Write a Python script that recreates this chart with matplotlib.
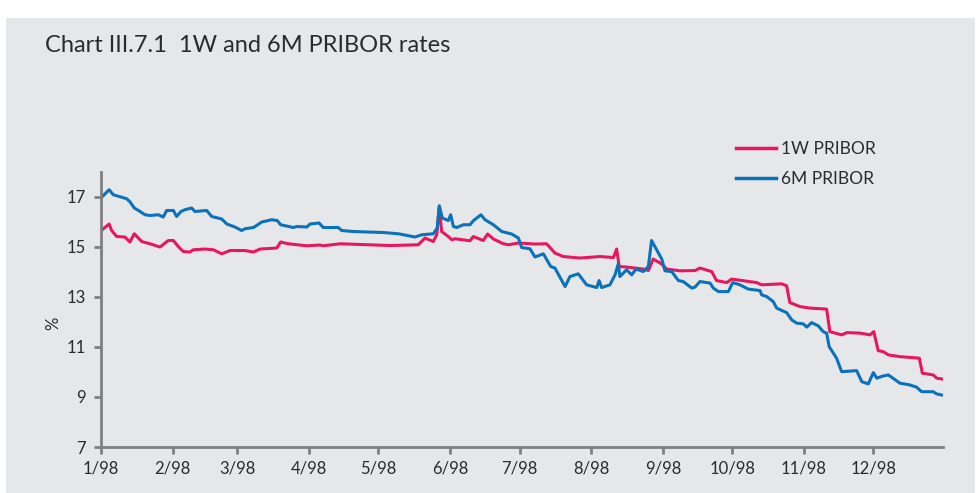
import numpy as np
import pandas as pd
import matplotlib
matplotlib.use("Agg")
import matplotlib.pyplot as plt
from matplotlib.patches import Rectangle

# ---- data (day offsets from 1 Jan 1998, rate in %) ----
days_6m = [0, 3.5, 5.3, 11.1, 12.5, 14.4, 16.9, 19.0, 21.2, 24.8, 26.9, 28.4, 31.3, 32.7,
           34.6, 36.3, 39.2, 40.6, 45.7, 47.9, 52.2, 54.4, 57.9, 60.8, 62.3, 65.9, 67.3,
           69.5, 73.8, 76.2, 77.7, 83.2, 84.6, 89.0, 90.4, 94.3, 96.1, 102.6, 104.1, 109.1,
           122.1, 128.6, 135.8, 138.7, 143.7, 145.4, 146.3, 147.6, 150.2, 151.2, 152.4,
           153.8, 156.7, 159.6, 161.0, 164.3, 166.1, 169.7, 173.3, 177.6, 180.5, 181.9,
           185.5, 187.7, 191.3, 194.5, 196.3, 200.7, 202.8, 206.4, 210.0, 214.4, 215.4,
           216.5, 220.1, 222.3, 223.7, 224.4, 227.3, 229.5, 231.4, 234.5, 236.7, 238.1,
           242.5, 243.9, 246.8, 249.7, 251.8, 255.5, 256.9, 259.0, 263.4, 264.8, 267.0,
           271.3, 273.2, 276.3, 279.9, 285.0, 285.7, 287.9, 290.7, 292.2, 296.5, 298.7,
           300.8, 303.7, 305.2, 307.3, 310.2, 312.3, 313.8, 314.9, 318.1, 320.3, 326.8,
           329.0, 331.8, 334.0, 335.5, 338.3, 340.5, 345.5, 349.8, 352.7, 354.9, 359.9,
           361.4, 363.5]
rate_6m = [16.95, 17.28, 17.08, 16.92, 16.80, 16.55, 16.41, 16.28, 16.25, 16.28, 16.19,
           16.45, 16.45, 16.21, 16.41, 16.48, 16.55, 16.41, 16.45, 16.21, 16.11, 15.91,
           15.79, 15.65, 15.72, 15.77, 15.85, 15.99, 16.08, 16.05, 15.88, 15.77, 15.81,
           15.79, 15.91, 15.95, 15.77, 15.77, 15.65, 15.61, 15.57, 15.52, 15.39, 15.48,
           15.52, 15.75, 16.64, 16.15, 16.05, 16.28, 15.81, 15.77, 15.88, 15.88, 16.04,
           16.28, 16.08, 15.88, 15.61, 15.51, 15.35, 14.97, 14.92, 14.59, 14.72, 14.21,
           14.15, 13.41, 13.81, 13.92, 13.48, 13.37, 13.65, 13.37, 13.48, 13.88, 14.32,
           13.81, 14.08, 13.88, 14.11, 14.01, 14.21, 15.25, 14.51, 14.04, 14.01, 13.65,
           13.61, 13.35, 13.39, 13.61, 13.55, 13.35, 13.21, 13.21, 13.57, 13.48, 13.31,
           13.25, 13.08, 13.01, 12.81, 12.55, 12.37, 12.08, 11.95, 11.92, 11.79, 11.97,
           11.84, 11.61, 11.55, 11.01, 10.55, 10.01, 10.05, 9.61, 9.52, 9.97, 9.75, 9.84,
           9.88, 9.55, 9.48, 9.39, 9.21, 9.21, 9.12, 9.08]

days_1w = [0, 3.5, 4.6, 6.8, 10.4, 12.5, 14.4, 17.6, 21.2, 25.5, 29.1, 31.3, 33.4, 35.6,
           38.5, 39.9, 45.0, 48.6, 52.2, 55.8, 62.3, 65.9, 68.8, 76.0, 77.7, 81.0, 89.0,
           94.7, 96.1, 103.4, 125.0, 137.2, 140.1, 143.7, 145.2, 146.3, 147.3, 150.2,
           151.7, 153.1, 159.6, 161.0, 165.3, 167.2, 169.7, 174.0, 176.2, 180.5, 187.7,
           192.7, 196.3, 199.9, 207.1, 215.8, 221.6, 223.0, 224.1, 227.3, 234.5, 236.7,
           238.8, 242.5, 244.6, 250.4, 256.9, 259.0, 264.1, 266.2, 270.6, 272.7, 283.5,
           285.7, 294.4, 296.5, 297.9, 302.3, 306.6, 313.8, 315.2, 320.3, 322.5, 328.2,
           332.6, 334.2, 336.1, 338.3, 340.5, 345.5, 353.9, 355.2, 359.9, 361.4, 363.5]
rate_1w = [15.64, 15.91, 15.65, 15.41, 15.39, 15.19, 15.52, 15.21, 15.12, 14.99, 15.25,
           15.25, 15.01, 14.81, 14.79, 14.88, 14.91, 14.88, 14.72, 14.85, 14.85, 14.79,
           14.91, 14.95, 15.19, 15.12, 15.04, 15.07, 15.04, 15.12, 15.05, 15.08, 15.35,
           15.21, 15.48, 16.61, 15.61, 15.41, 15.28, 15.32, 15.24, 15.41, 15.25, 15.51,
           15.31, 15.12, 15.08, 15.15, 15.11, 15.12, 14.75, 14.61, 14.55, 14.61, 14.57,
           14.91, 14.21, 14.19, 14.11, 14.05, 14.51, 14.31, 14.11, 14.04, 14.05, 14.15,
           14.01, 13.65, 13.57, 13.71, 13.57, 13.48, 13.52, 13.44, 12.77, 12.61, 12.55,
           12.51, 11.61, 11.48, 11.57, 11.55, 11.48, 11.61, 10.85, 10.81, 10.68, 10.61,
           10.55, 9.95, 9.88, 9.75, 9.72]

series_labels = ["1W PRIBOR", "6M PRIBOR"]
month_ticks = ["1998-%02d-01" % m for m in range(1, 13)]
month_labels = ["%d/98" % m for m in range(1, 13)]
y_ticks = [7, 9, 11, 13, 15, 17]
title = "Chart III.7.1  1W and 6M PRIBOR rates"

plt.rcParams['font.family'] = ["Lato", "DejaVu Sans"]

bg = "#E6E7E9"
txt = "#2b2b2b"
axcol = "#7f7f7f"
red = "#E8175D"
blue = "#0A72BA"

W, H = 978, 493
fig = plt.figure(figsize=(W / 100, H / 100), dpi=100)
fig.patch.set_facecolor(bg)
# white margins around the grey panel
fig.add_artist(Rectangle((0, 1 - 18 / H), 1, 18 / H, transform=fig.transFigure,
                         facecolor="white", edgecolor="none", zorder=0))
fig.add_artist(Rectangle((0, 0), 6 / W, 1, transform=fig.transFigure,
                         facecolor="white", edgecolor="none", zorder=0))
fig.add_artist(Rectangle((975 / W, 0), 3 / W, 1, transform=fig.transFigure,
                         facecolor="white", edgecolor="none", zorder=0))

left, right = 101 / W, 942.7 / W
bottom, top = 1 - 447 / H, 1 - 171.7 / H
ax = fig.add_axes([left, bottom, right - left, top - bottom])
ax.set_facecolor(bg)

base = pd.Timestamp("1998-01-01")
d1 = base + pd.to_timedelta(np.array(days_1w), unit="D")
d6 = base + pd.to_timedelta(np.array(days_6m), unit="D")

ax.plot(d1, rate_1w, color=red, lw=2.2, label=series_labels[0], solid_joinstyle="round")
ax.plot(d6, rate_6m, color=blue, lw=2.2, label=series_labels[1], solid_joinstyle="round")

ax.set_xlim(base, pd.Timestamp("1998-12-31"))
ax.set_ylim(7, 18)
ax.set_yticks(y_ticks)
ax.set_yticklabels([str(v) for v in y_ticks])
ax.set_xticks(pd.to_datetime(month_ticks))
ax.set_xticklabels(month_labels)

for s in ["top", "right"]:
    ax.spines[s].set_visible(False)
for s in ["left", "bottom"]:
    ax.spines[s].set_color(axcol)
    ax.spines[s].set_linewidth(2)
ax.tick_params(axis="both", colors=axcol, length=5, width=2, labelcolor=txt, labelsize=12)
ax.tick_params(axis="y", pad=6)
ax.tick_params(axis="x", pad=5)

fig.text(53 / W, 1 - 323 / H, "%", rotation=90, ha="center", va="center",
         fontsize=12, color=txt)

fig.text(45 / W, 1 - 45 / H, title, ha="left", va="center", fontsize=17, color=txt)

leg = fig.legend(loc="upper left", bbox_to_anchor=(736 / W, 1 - 141 / H),
                 frameon=False, fontsize=12.5, handlelength=2.3, handletextpad=0.3,
                 labelspacing=0.8, borderpad=0, borderaxespad=0)
for t in leg.get_texts():
    t.set_color(txt)
for l in leg.get_lines():
    l.set_linewidth(2.5)

fig.savefig("out.png", dpi=100, facecolor=bg)
